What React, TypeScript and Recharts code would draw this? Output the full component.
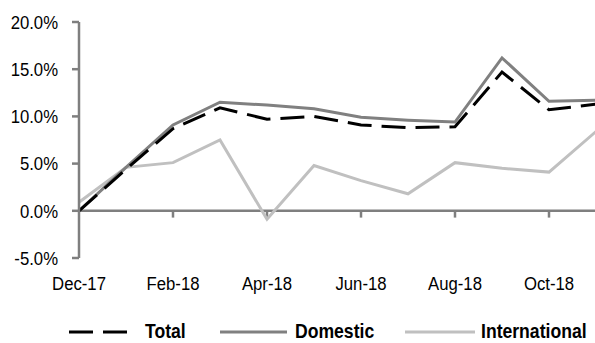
import React from 'react';
import { LineChart, Line, XAxis, YAxis, ReferenceLine, Legend } from 'recharts';

const months = ['Dec-17', 'Jan-18', 'Feb-18', 'Mar-18', 'Apr-18', 'May-18', 'Jun-18', 'Jul-18', 'Aug-18', 'Sep-18', 'Oct-18', 'Nov-18'];
const total = [0, 4.4, 8.7, 10.9, 9.7, 10.0, 9.1, 8.8, 8.9, 14.7, 10.7, 11.3];
const domestic = [0, 4.6, 9.1, 11.5, 11.2, 10.8, 9.9, 9.6, 9.4, 16.2, 11.6, 11.7];
const international = [0.9, 4.6, 5.1, 7.5, -0.9, 4.8, 3.2, 1.8, 5.1, 4.5, 4.1, 8.4];
const yTicks = [-5, 0, 5, 10, 15, 20];
const xTickMarkMonths = ['Feb-18', 'Apr-18', 'Jun-18', 'Aug-18', 'Oct-18'];
const seriesNames = ['Total', 'Domestic', 'International'];

const data = months.map((m, i) => ({
  month: m,
  total: total[i],
  domestic: domestic[i],
  international: international[i],
}));

const FONT = "'Liberation Sans', Arial, sans-serif";
const AXIS = '#7f7f7f';
const C_TOTAL = '#000000';
const C_DOM = '#808080';
const C_INTL = '#c0c0c0';
const SX = 0.88;

const fmt = (v: number) => `${v.toFixed(1)}%`;

const YTick = (props: any) => {
  const { x, y, payload } = props;
  return (
    <g transform={`translate(${x},${y})`}>
      <text transform={`scale(${SX},1)`} textAnchor="end" dy="0.36em" fontSize={19} fontFamily={FONT} fill="#000">
        {fmt(payload.value)}
      </text>
    </g>
  );
};

const XTick = (props: any) => {
  const { x, y, payload } = props;
  return (
    <g transform={`translate(${x},${y})`}>
      <text transform={`scale(${SX},1)`} textAnchor="middle" dy={32} fontSize={19} fontFamily={FONT} fill="#000">
        {payload.value}
      </text>
    </g>
  );
};

const legendLayout = [
  { color: C_TOTAL, dash: '24 10', x1: 69, x2: 128, tx: 145 },
  { color: C_DOM, dash: undefined, x1: 220, x2: 287, tx: 295 },
  { color: C_INTL, dash: undefined, x1: 405, x2: 475, tx: 481 },
];

const LegendSvg = () => (
  <svg width={595} height={30} style={{ display: 'block' }}>
    {seriesNames.map((name, i) => {
      const l = legendLayout[i];
      return (
        <g key={name}>
          <line x1={l.x1} x2={l.x2} y1={16} y2={16} stroke={l.color} strokeWidth={3} strokeDasharray={l.dash} />
          <g transform={`translate(${l.tx},22)`}>
            <text transform={`scale(${SX},1)`} fontSize={20} fontWeight="bold" fontFamily={FONT} fill="#000">
              {name}
            </text>
          </g>
        </g>
      );
    })}
  </svg>
);

export default function App() {
  return (
    <div style={{ position: 'absolute', left: 0, top: 0, width: 595, height: 343, overflow: 'hidden', background: '#fff' }}>
      <LineChart width={600} height={343} data={data} margin={{ top: 22, right: 4, bottom: 0, left: 19 }}>
        <XAxis
          dataKey="month"
          axisLine={false}
          tickLine={false}
          tickSize={0}
          tickMargin={0}
          interval={1}
          height={85}
          tick={(p: any) => <XTick {...p} />}
        />
        <YAxis
          domain={[-5, 20]}
          ticks={yTicks}
          interval={0}
          width={60}
          axisLine={{ stroke: AXIS, strokeWidth: 2.5 }}
          tickLine={{ stroke: AXIS, strokeWidth: 2.5 }}
          tickSize={7}
          tickMargin={14}
          tick={(p: any) => <YTick {...p} />}
        />
        <ReferenceLine y={0} stroke={AXIS} strokeWidth={2.5} />
        {xTickMarkMonths.map((m) => (
          <ReferenceLine
            key={m}
            segment={[{ x: m, y: 0 }, { x: m, y: -0.72 }]}
            stroke={AXIS}
            strokeWidth={2.5}
          />
        ))}
        <Line dataKey="international" name={seriesNames[2]} stroke={C_INTL} strokeWidth={3} dot={false} isAnimationActive={false} type="linear" />
        <Line dataKey="domestic" name={seriesNames[1]} stroke={C_DOM} strokeWidth={3} dot={false} isAnimationActive={false} type="linear" />
        <Line dataKey="total" name={seriesNames[0]} stroke={C_TOTAL} strokeWidth={3} strokeDasharray="24 10" dot={false} isAnimationActive={false} type="linear" />
        <Legend
          layout="horizontal"
          verticalAlign="middle"
          align="center"
          wrapperStyle={{ position: 'absolute', left: 0, top: 316, width: 595, height: 30, margin: 0, padding: 0 }}
          content={() => <LegendSvg />}
        />
      </LineChart>
    </div>
  );
}
